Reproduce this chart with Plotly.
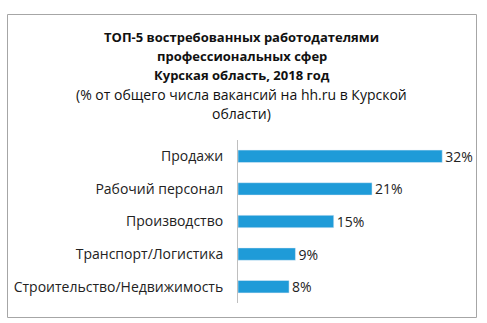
import plotly.graph_objects as go

categories = ["Продажи", "Рабочий персонал", "Производство", "Транспорт/Логистика", "Строительство/Недвижимость"]
values = [32, 21, 15, 9, 8]
labels = ["32%", "21%", "15%", "9%", "8%"]

title_lines = [
    ("<b>ТОП-5 востребованных работодателями</b>", 13),
    ("<b>профессиональных сфер</b>", 13),
    ("<b>Курская область, 2018 год</b>", 13),
    ("(% от общего числа вакансий на hh.ru в Курской", 14),
    ("области)", 14),
]
title_y = [37, 56, 75, 94, 113]

W, H = 487, 323
L, R, T, B = 238, 32, 140, 20
pw, ph = W - L - R, H - T - B

def px(x):
    return (x - L) / pw

def py(y):
    return (H - B - y) / ph

font_family = "Open Sans, Liberation Sans, Arial, sans-serif"

fig = go.Figure(go.Bar(
    x=values, y=categories, orientation="h",
    marker=dict(color="#1F9BD8"),
    width=0.38,
    text=labels, textposition="outside", cliponaxis=False,
    constraintext="none",
    textfont=dict(size=14, color="#222222", family=font_family),
    outsidetextfont=dict(size=14, color="#222222", family=font_family),
))

annotations = []
for (t, fs), yy in zip(title_lines, title_y):
    annotations.append(dict(
        text=t, xref="paper", yref="paper", x=px(241.5), y=py(yy),
        xanchor="center", yanchor="middle", showarrow=False,
        font=dict(size=fs, color="#111111", family=font_family),
    ))

fig.update_layout(
    width=W, height=H,
    margin=dict(l=L, r=R, t=T, b=B, pad=0),
    paper_bgcolor="white", plot_bgcolor="white",
    showlegend=False,
    annotations=annotations,
    xaxis=dict(range=[0, 34], visible=False, fixedrange=True),
    yaxis=dict(
        autorange="reversed", showline=True, linecolor="#BFBFBF", linewidth=1,
        ticks="", showgrid=False, ticklabelstandoff=11,
        tickfont=dict(size=14, color="#222222", family=font_family),
    ),
    shapes=[dict(type="rect", xref="paper", yref="paper",
                 x0=px(7.5), x1=px(476.5), y0=py(317.5), y1=py(14.5),
                 line=dict(color="#A6A6A6", width=1))],
)

fig.write_html("out.html")
